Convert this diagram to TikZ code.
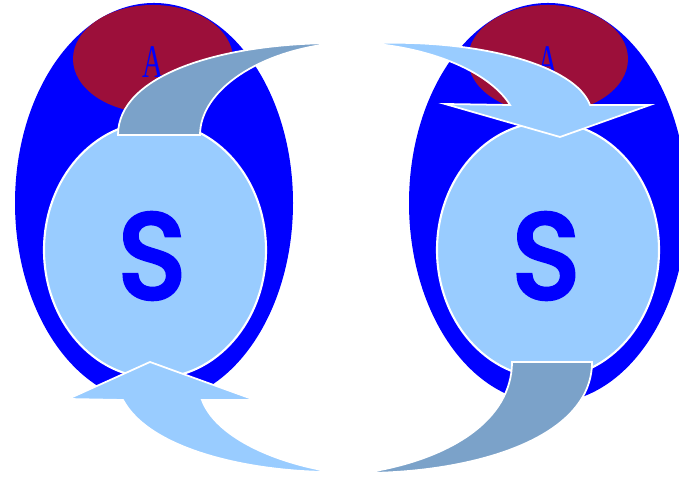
\documentclass[tikz,border=0pt]{standalone}
\usepackage{fontspec}
\newfontfamily\sfont[FakeBold=4.5]{Poppins}
\newfontfamily\afont{Liberation Serif}
\definecolor{outerblue}{HTML}{0000FF}
\definecolor{capred}{HTML}{9C0F3A}
\definecolor{lightblue}{HTML}{99CCFF}
\definecolor{steel}{HTML}{7BA2C9}
\begin{document}
\begin{tikzpicture}[x=0.01cm,y=-0.01cm,
  outerfill/.style={fill=outerblue},
  redcap/.style={fill=capred},
  innerfill/.style={fill=lightblue, draw=white, line width=0.6pt},
  frontpart/.style={fill=lightblue, draw=white, line width=0.5pt, line join=miter},
  backpart/.style={fill=steel, draw=white, line width=0.5pt, line join=miter},
  bigS/.style={text=outerblue, inner sep=0pt, xscale=0.95, font=\sfont\fontsize{34}{40}\selectfont},
  letA/.style={text=outerblue, inner sep=0pt, xscale=0.62, font=\afont\fontsize{13.3}{15}\selectfont}]
\useasboundingbox (0,0) rectangle (679,480);
\clip (0,0) rectangle (679,480);
% left figure
\fill[outerfill] (154,203) ellipse [x radius=139, y radius=200];
\fill[redcap] (153,59) ellipse [x radius=80, y radius=54];
\node[letA] (aL) at (152.5,62.5) {A};
\path[innerfill] (155,250) ellipse [x radius=111, y radius=128];
\node[bigS] (sL) at (152,256) {S};
% right figure
\fill[outerfill] (548,203) ellipse [x radius=139, y radius=200];
\fill[redcap] (548,59) ellipse [x radius=80, y radius=54];
\node[letA] (aR) at (547.5,62.5) {A};
\path[innerfill] (548,250) ellipse [x radius=111, y radius=128];
\node[bigS] (sR) at (546,256) {S};
% top arrow: back (dark) part
\path[backpart] (118,135) -- (200,135) .. controls (200,90) and (260,50) .. (338,43)
  .. controls (220,43) and (118,75) .. (118,135) -- cycle;
% top arrow: front part with head
\path[frontpart] (377,43) .. controls (480,40) and (575,65) .. (590,105)
  -- (650,105) -- (560,137) -- (445,104) -- (510,105)
  .. controls (495,80) and (450,52) .. (377,44) -- cycle;
% bottom arrow: back (dark) part
\path[backpart] (512,362) -- (592,362) .. controls (592,440) and (470,473) .. (363,473)
  .. controls (450,460) and (512,420) .. (512,362) -- cycle;
% bottom arrow: front part with head
\path[frontpart] (123,400) .. controls (150,450) and (250,472) .. (333,472)
  .. controls (270,462) and (215,435) .. (202,400)
  -- (255,400) -- (150,362) -- (68,399) -- cycle;
\end{tikzpicture}
\end{document}
